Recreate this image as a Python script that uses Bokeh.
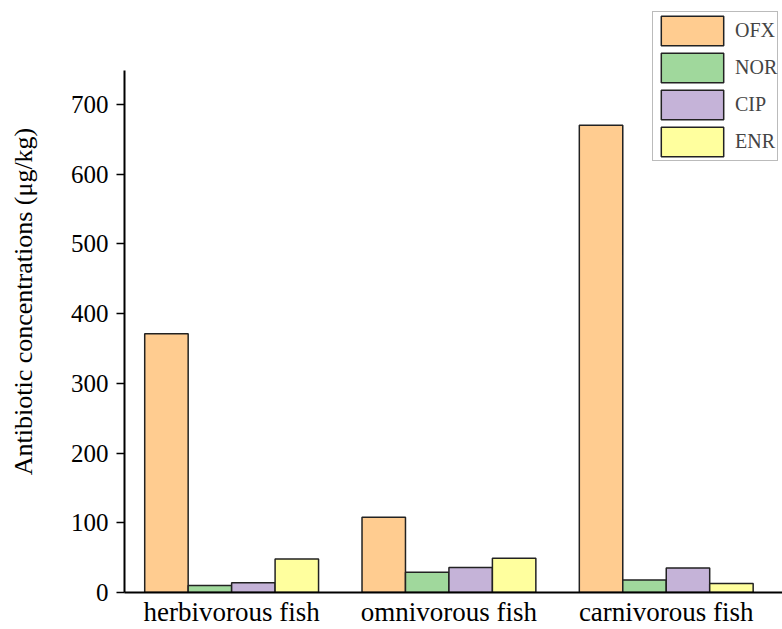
from bokeh.plotting import figure
from bokeh.models import Range1d, FixedTicker, Legend, LegendItem
from bokeh.embed import file_html
from bokeh.resources import INLINE

categories = ["herbivorous fish", "omnivorous fish", "carnivorous fish"]
series = ["OFX", "NOR", "CIP", "ENR"]
OFX = [371, 108, 670]
NOR = [10, 29, 18]
CIP = [14, 36, 35]
ENR = [48, 49, 13]
values = [OFX, NOR, CIP, ENR]
colors = ["#FFCC90", "#A0D89C", "#C5B3D8", "#FFFF9E"]
offsets = [-0.3, -0.1, 0.1, 0.3]
y_ticks = [0, 100, 200, 300, 400, 500, 600, 700]

FONT = "Liberation Serif"

p = figure(width=782, height=629, output_backend="svg", toolbar_location=None,
           x_range=Range1d(-0.493, 2.535), y_range=Range1d(0, 834.6),
           min_border_left=124, min_border_right=0, min_border_top=10, min_border_bottom=36)
p.outline_line_color = None
p.grid.visible = False

items = []
for name, vals, col, off in zip(series, values, colors, offsets):
    xs = [i + off for i in range(len(categories))]
    r = p.vbar(x=xs, top=vals, width=0.2, bottom=0, fill_color=col,
               line_color="#222222", line_width=1.5)
    items.append(LegendItem(label=name, renderers=[r]))

xa = p.xaxis[0]
xa.ticker = FixedTicker(ticks=[0, 1, 2])
xa.major_label_overrides = {i: c for i, c in enumerate(categories)}
xa.major_tick_out = 0
xa.major_tick_in = 0
xa.minor_tick_out = 0
xa.minor_tick_in = 0
xa.axis_line_width = 2
xa.axis_line_color = "black"
xa.major_label_text_font = FONT
xa.major_label_text_font_size = "27px"
xa.major_label_text_color = "black"
xa.major_label_standoff = 4

ya = p.yaxis[0]
ya.ticker = FixedTicker(ticks=y_ticks)
ya.bounds = (0, 748)
ya.major_tick_out = 8
ya.major_tick_in = 0
ya.minor_tick_out = 0
ya.minor_tick_in = 0
ya.major_tick_line_width = 1.5
ya.axis_line_width = 2
ya.axis_line_color = "black"
ya.major_label_text_font = FONT
ya.major_label_text_font_size = "25px"
ya.major_label_text_color = "black"
ya.major_label_standoff = 8
ya.axis_label = "Antibiotic concentrations (μg/kg)"
ya.axis_label_text_font = FONT
ya.axis_label_text_font_size = "26px"
ya.axis_label_text_font_style = "normal"
ya.axis_label_text_color = "black"
ya.axis_label_standoff = 30

legend = Legend(items=items, location=(528, 431), glyph_width=78, glyph_height=37,
                spacing=0, padding=0, margin=0, label_standoff=4,
                label_text_font=FONT, label_text_font_size="20px",
                border_line_color="#777777", border_line_width=1,
                background_fill_color="white", background_fill_alpha=1)
p.add_layout(legend, "center")

open("out.html", "w").write(file_html(p, INLINE))
